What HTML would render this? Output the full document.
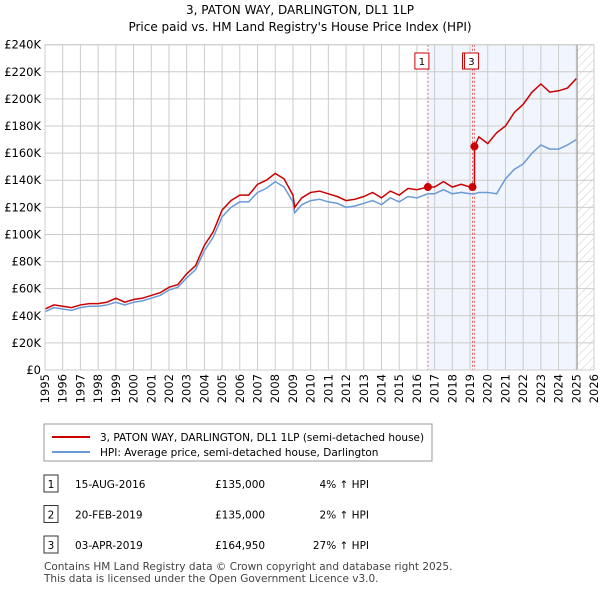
<!DOCTYPE html>
<html><head><meta charset="utf-8"><style>
body{margin:0;background:#fff;font-family:"Liberation Sans","DejaVu Sans",sans-serif;}
#wrap{position:relative;width:600px;height:590px;overflow:hidden;}
text{font-family:"DejaVu Sans","Liberation Sans",sans-serif;}
</style></head><body>
<div id="wrap">
<svg id="svg" width="600" height="590" xmlns="http://www.w3.org/2000/svg">
<defs><pattern id="hatch" width="6" height="6" patternUnits="userSpaceOnUse" patternTransform="rotate(45)"><line x1="0" y1="0" x2="0" y2="6" stroke="#ccc" stroke-width="1"/></pattern></defs>
<text x="300" y="14" text-anchor="middle" font-size="12">3, PATON WAY, DARLINGTON, DL1 1LP</text>
<text x="300" y="31" text-anchor="middle" font-size="12">Price paid vs. HM Land Registry's House Price Index (HPI)</text>
<g id="plot"></g>
<rect x="44" y="424" width="388" height="37" fill="#fff" stroke="#999"/>
<line x1="52" y1="437" x2="90" y2="437" stroke="#cc0000" stroke-width="2"/>
<text x="100" y="441" font-size="10.5">3, PATON WAY, DARLINGTON, DL1 1LP (semi-detached house)</text>
<line x1="52" y1="452" x2="90" y2="452" stroke="#6a9ad8" stroke-width="2"/>
<text x="100" y="456" font-size="10.5">HPI: Average price, semi-detached house, Darlington</text>
<g id="table" font-size="10.5"></g>
<text x="44" y="570" font-size="10.5" fill="#444">Contains HM Land Registry data © Crown copyright and database right 2025.</text>
<text x="44" y="582" font-size="10.5" fill="#444">This data is licensed under the Open Government Licence v3.0.</text>
</svg></div>
<script>
const years=[1995,1995.5,1996,1996.5,1997,1997.5,1998,1998.5,1999,1999.5,2000,2000.5,2001,2001.5,2002,2002.5,2003,2003.5,2004,2004.5,2005,2005.5,2006,2006.5,2007,2007.5,2008,2008.5,2009,2009.1,2009.5,2010,2010.5,2011,2011.5,2012,2012.5,2013,2013.5,2014,2014.5,2015,2015.5,2016,2016.62,2017,2017.5,2018,2018.5,2019,2019.25,2019.5,2020,2020.5,2021,2021.5,2022,2022.5,2023,2023.5,2024,2024.5,2025];
const hpi=[43,46,45,44,46,47,47,48,50,48,50,51,53,55,59,61,68,74,88,98,113,120,124,124,131,134,139,135,124,116,122,125,126,124,123,120,121,123,125,122,127,124,128,127,130,130,133,130,131,130,130,131,131,130,141,148,152,160,166,163,163,166,170];
const paidYears=[1995,1995.5,1996,1996.5,1997,1997.5,1998,1998.5,1999,1999.5,2000,2000.5,2001,2001.5,2002,2002.5,2003,2003.5,2004,2004.5,2005,2005.5,2006,2006.5,2007,2007.5,2008,2008.5,2009,2009.1,2009.5,2010,2010.5,2011,2011.5,2012,2012.5,2013,2013.5,2014,2014.5,2015,2015.5,2016,2016.62,2017,2017.5,2018,2018.5,2019,2019.25,2019.25,2019.5,2020,2020.5,2021,2021.5,2022,2022.5,2023,2023.5,2024,2024.5,2025];
const paid=[45,48,47,46,48,49,49,50,53,50,52,53,55,57,61,63,71,77,92,102,118,125,129,129,137,140,145,141,129,120,127,131,132,130,128,125,126,128,131,127,132,129,134,133,135,135,139,135,137,135,135,165,172,167,175,180,190,196,205,211,205,206,208,215];
const sales=[[2016.62,135],[2019.14,135],[2019.25,164.95]];
const yTicks=[0,20,40,60,80,100,120,140,160,180,200,220,240];
const xTicks=[1995,1996,1997,1998,1999,2000,2001,2002,2003,2004,2005,2006,2007,2008,2009,2010,2011,2012,2013,2014,2015,2016,2017,2018,2019,2020,2021,2022,2023,2024,2025,2026];
const rows=[["1","15-AUG-2016","£135,000","4% ↑ HPI"],["2","20-FEB-2019","£135,000","2% ↑ HPI"],["3","03-APR-2019","£164,950","27% ↑ HPI"]];
const NS="http://www.w3.org/2000/svg";
const X0=45,X1=594,Y0=370,Y1=44.7;
const xs=y=>X0+(y-1995)/(2026-1995)*(X1-X0);
const ys=v=>Y0-v/240*(Y0-Y1);
const plot=document.getElementById('plot');
function mk(t,a,p){const e=document.createElementNS(NS,t);for(const k in a)e.setAttribute(k,a[k]);(p||plot).appendChild(e);return e;}
let e;
e=mk('rect',{x:xs(2016.62),y:Y1,width:xs(2025.05)-xs(2016.62),height:Y0-Y1,fill:'#eef3fc',opacity:0.8});


e=mk('rect',{x:xs(2025.05),y:Y1,width:X1-xs(2025.05),height:Y0-Y1,fill:'url(#hatch)'});


yTicks.forEach(v=>{
 e=mk('line',{x1:X0,x2:X1,y1:ys(v),y2:ys(v),stroke:'#ccc'});
 
 
 e=mk('text',{x:41,y:ys(v)+4,'text-anchor':'end','font-size':'11.5'});e.textContent=v===0?'£0':'£'+v+'K';
 
 
});
xTicks.forEach(y=>{
 e=mk('line',{x1:xs(y),x2:xs(y),y1:Y1,y2:Y0,stroke:'#ccc'});
 
 
 e=mk('text',{transform:`translate(${xs(y)+4},${Y0+4}) rotate(-90)`,'text-anchor':'end','font-size':'11.5'});e.textContent=y;
 
 
});
e=mk('line',{x1:xs(2025.05),x2:xs(2025.05),y1:Y1,y2:Y0,stroke:'#999'});


sales.forEach((s,i)=>{
 e=mk('line',{x1:xs(s[0]),x2:xs(s[0]),y1:Y1,y2:Y0,stroke:'#e06666','stroke-dasharray':'2,2'});
 
 
});
e=mk('polyline',{points:years.map((y,i)=>xs(y)+','+ys(hpi[i])).join(' '),fill:'none',stroke:'#6a9ad8','stroke-width':1.5});


e=mk('polyline',{points:paidYears.map((y,i)=>xs(y)+','+ys(paid[i])).join(' '),fill:'none',stroke:'#cc0000','stroke-width':1.5});


sales.forEach((s,i)=>{
 e=mk('circle',{cx:xs(s[0]),cy:ys(s[1]),r:4,fill:'#cc0000'});
 
 
});
[[0,-6],[1,-3],[2,-3]].forEach(([i,dx])=>{
 const cx=xs(sales[i][0])+dx;
 e=mk('rect',{x:cx-7,y:53,width:14,height:16,fill:'#fff',stroke:'#cc0000'});
 
 
 e=mk('text',{x:cx,y:65,'text-anchor':'middle','font-size':'10'});e.textContent=rows[i][0];
 
 
});
e=mk('rect',{x:X0,y:Y1,width:X1-X0,height:Y0-Y1,fill:'none',stroke:'#ccc'});


const tb=document.getElementById('table');
rows.forEach((r,i)=>{
 const y=484+i*30.5;
 e=mk('rect',{x:44,y:y-9,width:14,height:17,fill:'#fff',stroke:'#333'},tb);
 
 
 e=mk('text',{x:51,y:y+4,'text-anchor':'middle'},tb);e.textContent=r[0];
 
 
 e=mk('text',{x:75,y:y+4},tb);e.textContent=r[1];
 
 
 e=mk('text',{x:215,y:y+4},tb);e.textContent=r[2];
 
 
 e=mk('text',{x:369,y:y+4,'text-anchor':'end'},tb);e.textContent=r[3];
 
 
});
</script>
</body></html>
